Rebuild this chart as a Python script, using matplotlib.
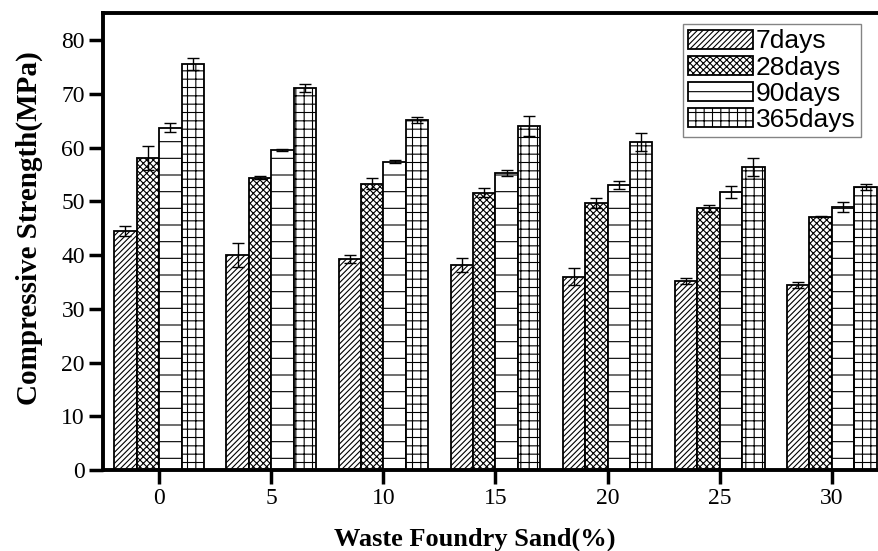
import numpy as np
import matplotlib
matplotlib.use("Agg")
import matplotlib.pyplot as plt

# data
sand = [0, 5, 10, 15, 20, 25, 30]
ages = ["7days", "28days", "90days", "365days"]

days7 = [44.5, 40.0, 39.3, 38.1, 36.0, 35.2, 34.4]
days28 = [58.1, 54.4, 53.3, 51.6, 49.7, 48.7, 47.1]
days90 = [63.7, 59.5, 57.4, 55.3, 53.0, 51.8, 49.0]
days365 = [75.5, 71.1, 65.1, 64.0, 61.1, 56.4, 52.7]

err7 = [0.9, 2.3, 0.8, 1.3, 1.5, 0.6, 0.5]
err28 = [2.2, 0.3, 1.1, 0.8, 0.9, 0.6, 0.1]
err90 = [0.8, 0.2, 0.3, 0.6, 0.8, 1.1, 0.9]
err365 = [1.1, 0.8, 0.5, 1.9, 1.7, 1.7, 0.6]

series = [days7, days28, days90, days365]
errors = [err7, err28, err90, err365]
hatches = ["//////", "xxxxx", "-", "++"]
offsets = [-1.5, -0.5, 0.5, 1.5]

plt.rcParams["hatch.linewidth"] = 0.8

fig = plt.figure(figsize=(8.79, 5.51), dpi=100)
ax = fig.add_axes([0.1172, 0.147, 0.893, 0.829])

x = np.array(sand, dtype=float)
for vals, errs, h, off, lab in zip(series, errors, hatches, offsets, ages):
    ax.bar(x + off, vals, width=1.0, facecolor="white", edgecolor="black",
           linewidth=1.3, hatch=h, label=lab, zorder=2)
    ax.errorbar(x + off, vals, yerr=errs, fmt="none", ecolor="black",
                elinewidth=1.0, capsize=4, capthick=1.0, zorder=3)

ax.set_xlim(-2.5, 32.5)
ax.set_ylim(0, 85)
ax.set_xticks(sand)
ax.set_yticks(range(0, 81, 10))

for s in ax.spines.values():
    s.set_linewidth(2.8)

ax.tick_params(axis="both", direction="out", length=10, width=2.5,
               labelsize=17, pad=3)
for t in ax.get_xticklabels() + ax.get_yticklabels():
    t.set_fontfamily("Liberation Serif")

ax.set_xlabel("Waste Foundry Sand(%)", fontfamily="Liberation Serif",
              fontweight="bold", fontsize=19)
ax.set_ylabel("Compressive Strength(MPa)", fontfamily="Liberation Serif",
              fontweight="bold", fontsize=21)
ax.xaxis.set_label_coords(0.473, -0.125)
ax.yaxis.set_label_coords(-0.077, 0.53)

leg = ax.legend(loc="upper left", bbox_to_anchor=(0.739, 0.976),
                prop={"family": "Liberation Sans", "size": 19},
                handlelength=2.45, handleheight=0.72, handletextpad=0.1,
                labelspacing=0.08, borderpad=0.2, borderaxespad=0,
                frameon=True, fancybox=False, edgecolor="#666666")
leg.get_frame().set_linewidth(1.0)

plt.savefig("out.png", dpi=100)
